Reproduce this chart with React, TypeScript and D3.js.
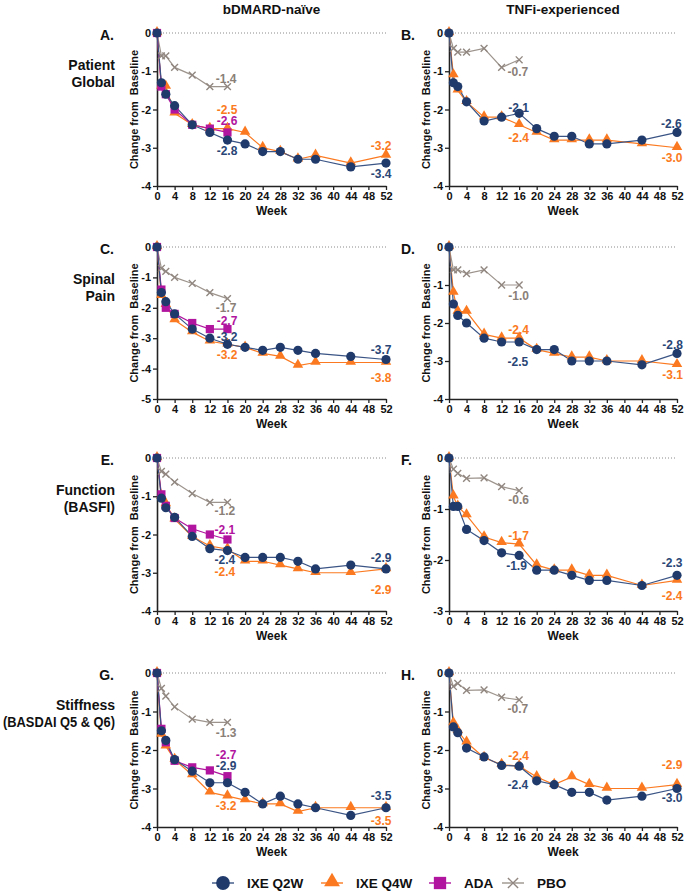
import React, { useEffect, useRef } from 'react';
import * as d3 from 'd3';

// ---------- DATA ----------
const WEEKS_IXE = [0, 1, 2, 4, 8, 12, 16, 20, 24, 28, 32, 36, 44, 52];
const WEEKS_SHORT = [0, 1, 2, 4, 8, 12, 16];
const X_TICKS = [0, 4, 8, 12, 16, 20, 24, 28, 32, 36, 40, 44, 48, 52];
const COLUMN_TITLES = ['bDMARD-naïve', 'TNFi-experienced'];
const ROW_LABELS = [['Patient', 'Global'], ['Spinal', 'Pain'], ['Function', '(BASFI)'], ['Stiffness', '(BASDAI Q5 & Q6)']];
const LEGEND_NAMES = ['IXE Q2W', 'IXE Q4W', 'ADA', 'PBO'];

// Panel A: bDMARD-naive, Patient Global
const A_Q2W = [0, -1.3, -1.6, -1.9, -2.4, -2.6, -2.8, -2.9, -3.1, -3.1, -3.3, -3.3, -3.5, -3.4];
const A_Q4W = [0, -1.4, -1.4, -2.1, -2.4, -2.5, -2.5, -2.6, -3.0, -3.1, -3.3, -3.2, -3.4, -3.2];
const A_ADA = [0, -1.4, -1.6, -2.0, -2.4, -2.5, -2.6];
const A_PBO = [0, -0.6, -0.6, -0.9, -1.1, -1.4, -1.4];
// Panel B: TNFi-experienced, Patient Global
const B_Q2W = [0, -1.3, -1.4, -1.8, -2.3, -2.2, -2.1, -2.5, -2.7, -2.7, -2.9, -2.9, -2.8, -2.6];
const B_Q4W = [0, -1.1, -1.5, -1.8, -2.2, -2.2, -2.4, -2.6, -2.8, -2.8, -2.8, -2.8, -2.9, -3.0];
const B_PBO = [0, -0.4, -0.5, -0.5, -0.4, -0.9, -0.7];
// Panel C: bDMARD-naive, Spinal Pain
const C_Q2W = [0, -1.5, -1.8, -2.2, -2.7, -3.0, -3.2, -3.3, -3.4, -3.3, -3.4, -3.5, -3.6, -3.7];
const C_Q4W = [0, -1.6, -1.9, -2.4, -2.8, -3.1, -3.2, -3.3, -3.5, -3.6, -3.9, -3.8, -3.8, -3.8];
const C_ADA = [0, -1.4, -2.0, -2.2, -2.5, -2.7, -2.7];
const C_PBO = [0, -0.7, -0.8, -1.0, -1.2, -1.5, -1.7];
// Panel D: TNFi-experienced, Spinal Pain
const D_Q2W = [0, -1.5, -1.8, -2.0, -2.4, -2.5, -2.5, -2.7, -2.7, -3.0, -3.0, -3.0, -3.1, -2.8];
const D_Q4W = [0, -1.2, -1.7, -1.7, -2.3, -2.4, -2.4, -2.7, -2.8, -2.9, -2.9, -3.0, -3.0, -3.1];
const D_PBO = [0, -0.6, -0.6, -0.7, -0.6, -1.0, -1.0];
// Panel E: bDMARD-naive, Function (BASFI)
const E_Q2W = [0, -1.05, -1.3, -1.55, -2.05, -2.37, -2.42, -2.6, -2.6, -2.6, -2.7, -2.9, -2.8, -2.9];
const E_Q4W = [0, -1.0, -1.2, -1.6, -2.05, -2.3, -2.38, -2.7, -2.7, -2.8, -2.9, -3.0, -3.0, -2.9];
const E_ADA = [0, -0.95, -1.25, -1.57, -1.85, -2.0, -2.13];
const E_PBO = [0, -0.35, -0.42, -0.63, -0.93, -1.16, -1.16];
// Panel F: TNFi-experienced, Function (BASFI)
const F_Q2W = [0, -0.95, -0.95, -1.4, -1.62, -1.86, -1.91, -2.2, -2.2, -2.3, -2.4, -2.4, -2.5, -2.3];
const F_Q4W = [0, -0.75, -0.95, -1.12, -1.55, -1.66, -1.69, -2.1, -2.2, -2.2, -2.3, -2.3, -2.5, -2.4];
const F_PBO = [0, -0.22, -0.3, -0.4, -0.39, -0.56, -0.64];
// Panel G: bDMARD-naive, Stiffness
const G_Q2W = [0, -1.5, -1.75, -2.25, -2.55, -2.85, -2.85, -3.1, -3.4, -3.2, -3.4, -3.5, -3.7, -3.5];
const G_Q4W = [0, -1.6, -1.9, -2.25, -2.65, -3.1, -3.2, -3.3, -3.4, -3.4, -3.6, -3.5, -3.5, -3.5];
const G_ADA = [0, -1.45, -1.8, -2.28, -2.45, -2.53, -2.68];
const G_PBO = [0, -0.4, -0.6, -0.88, -1.2, -1.28, -1.28];
// Panel H: TNFi-experienced, Stiffness
const H_Q2W = [0, -1.4, -1.55, -1.95, -2.18, -2.4, -2.42, -2.8, -2.9, -3.1, -3.1, -3.3, -3.2, -3.0];
const H_Q4W = [0, -1.3, -1.5, -1.8, -2.2, -2.38, -2.42, -2.7, -2.9, -2.7, -2.9, -3.0, -3.0, -2.9];
const H_PBO = [0, -0.35, -0.27, -0.45, -0.44, -0.63, -0.7];

// value labels: [text, series, week, value] (label centre in data units)
type Lab = [string, string, number, number];
const A_LABELS: Lab[] = [['-1.4', 'pbo', 15.7, -1.2], ['-2.5', 'q4w', 15.9, -2.0], ['-2.6', 'ada', 15.9, -2.29], ['-2.8', 'q2w', 15.9, -3.08], ['-3.2', 'q4w', 50.9, -2.95], ['-3.4', 'q2w', 50.9, -3.69]];
const B_LABELS: Lab[] = [['-0.7', 'pbo', 15.7, -1.01], ['-2.1', 'q2w', 15.9, -1.96], ['-2.4', 'q4w', 15.9, -2.75], ['-2.6', 'q2w', 50.7, -2.38], ['-3.0', 'q4w', 50.9, -3.27]];
const C_LABELS: Lab[] = [['-1.7', 'pbo', 15.7, -2.0], ['-2.7', 'ada', 15.9, -2.43], ['-3.2', 'q2w', 15.9, -2.95], ['-3.2', 'q4w', 15.9, -3.55], ['-3.7', 'q2w', 50.9, -3.39], ['-3.8', 'q4w', 50.9, -4.3]];
const D_LABELS: Lab[] = [['-1.0', 'pbo', 15.9, -1.28], ['-2.4', 'q4w', 15.9, -2.18], ['-2.5', 'q2w', 15.7, -3.02], ['-2.8', 'q2w', 51, -2.58], ['-3.1', 'q4w', 51, -3.37]];
const E_LABELS: Lab[] = [['-1.2', 'pbo', 15.4, -1.38], ['-2.1', 'ada', 15.4, -1.88], ['-2.4', 'q2w', 15.4, -2.67], ['-2.4', 'q4w', 15.4, -2.99], ['-2.9', 'q2w', 50.9, -2.62], ['-2.9', 'q4w', 50.9, -3.45]];
const F_LABELS: Lab[] = [['-0.6', 'pbo', 15.9, -0.82], ['-1.7', 'q4w', 15.9, -1.52], ['-1.9', 'q2w', 15.4, -2.11], ['-2.3', 'q2w', 50.9, -2.05], ['-2.4', 'q4w', 50.9, -2.7]];
const G_LABELS: Lab[] = [['-1.3', 'pbo', 15.7, -1.55], ['-2.7', 'ada', 15.7, -2.13], ['-2.9', 'q2w', 15.7, -2.41], ['-3.2', 'q4w', 15.7, -3.45], ['-3.5', 'q2w', 50.9, -3.2], ['-3.5', 'q4w', 50.9, -3.85]];
const H_LABELS: Lab[] = [['-0.7', 'pbo', 15.7, -0.94], ['-2.4', 'q4w', 15.9, -2.16], ['-2.4', 'q2w', 15.7, -2.92], ['-2.9', 'q4w', 50.9, -2.38], ['-3.0', 'q2w', 50.9, -3.24]];

// ---------- STYLE / LAYOUT ----------
const FONT = "'Liberation Sans', Arial, Helvetica, sans-serif";
const COLORS: Record<string, string> = { q2w: '#1f3a6b', q4w: '#fb7a21', ada: '#b1149e', pbo: '#918780' };
const LINE_COLORS: Record<string, string> = { q2w: '#3a5485', q4w: '#fb7a21', ada: '#b1149e', pbo: '#9d948d' };
const LABEL_COLORS: Record<string, string> = { q2w: '#2a4676', q4w: '#fb7a21', ada: '#b1149e', pbo: '#8a8078' };
const COL_X = [[157, 386], [449, 677]];
const ROW_Y = [[33, 186], [247, 399], [458, 611], [673, 827]];

interface Panel {
  letter: string; col: number; row: number; ymin: number;
  q2w: number[]; q4w: number[]; ada?: number[]; pbo: number[]; labels: Lab[];
}
const PANELS: Panel[] = [
  { letter: 'A.', col: 0, row: 0, ymin: -4, q2w: A_Q2W, q4w: A_Q4W, ada: A_ADA, pbo: A_PBO, labels: A_LABELS },
  { letter: 'B.', col: 1, row: 0, ymin: -4, q2w: B_Q2W, q4w: B_Q4W, pbo: B_PBO, labels: B_LABELS },
  { letter: 'C.', col: 0, row: 1, ymin: -5, q2w: C_Q2W, q4w: C_Q4W, ada: C_ADA, pbo: C_PBO, labels: C_LABELS },
  { letter: 'D.', col: 1, row: 1, ymin: -4, q2w: D_Q2W, q4w: D_Q4W, pbo: D_PBO, labels: D_LABELS },
  { letter: 'E.', col: 0, row: 2, ymin: -4, q2w: E_Q2W, q4w: E_Q4W, ada: E_ADA, pbo: E_PBO, labels: E_LABELS },
  { letter: 'F.', col: 1, row: 2, ymin: -3, q2w: F_Q2W, q4w: F_Q4W, pbo: F_PBO, labels: F_LABELS },
  { letter: 'G.', col: 0, row: 3, ymin: -4, q2w: G_Q2W, q4w: G_Q4W, ada: G_ADA, pbo: G_PBO, labels: G_LABELS },
  { letter: 'H.', col: 1, row: 3, ymin: -4, q2w: H_Q2W, q4w: H_Q4W, pbo: H_PBO, labels: H_LABELS },
];

function drawMarker(g: any, kind: string, cx: number, cy: number, scale = 1) {
  const c = COLORS[kind];
  if (kind === 'q2w') {
    g.append('circle').attr('cx', cx).attr('cy', cy).attr('r', 4.6 * scale).attr('fill', c);
  } else if (kind === 'q4w') {
    g.append('path').attr('d', d3.symbol(d3.symbolTriangle, 48 * scale * scale)()).attr('transform', `translate(${cx},${cy - 0.8 * scale})`).attr('fill', c);
  } else if (kind === 'ada') {
    const s = 8.2 * scale;
    g.append('rect').attr('x', cx - s / 2).attr('y', cy - s / 2).attr('width', s).attr('height', s).attr('fill', c);
  } else {
    const s = 3.4 * scale;
    g.append('path').attr('d', `M${cx - s},${cy - s}L${cx + s},${cy + s}M${cx - s},${cy + s}L${cx + s},${cy - s}`)
      .attr('stroke', c).attr('stroke-width', 1.4).attr('fill', 'none');
  }
}

export default function App() {
  const ref = useRef<SVGSVGElement>(null);
  useEffect(() => {
    const svg = d3.select(ref.current);
    svg.selectAll('*').remove();
    svg.append('rect').attr('width', 685).attr('height', 892).attr('fill', '#fff');

    // Column titles
    COLUMN_TITLES.forEach((t, i) => {
      svg.append('text').attr('x', (COL_X[i][0] + COL_X[i][1]) / 2).attr('y', 14)
        .attr('text-anchor', 'middle').attr('font-family', FONT).attr('font-weight', 'bold')
        .attr('font-size', 13.5).attr('fill', '#111').text(t);
    });

    // Row labels
    ROW_LABELS.forEach((lines, r) => {
      lines.forEach((ln, k) => {
        const t = svg.append('text').attr('x', 115).attr('y', ROW_Y[r][0] + 37 + k * 16.5)
          .attr('text-anchor', 'end').attr('font-family', FONT).attr('font-weight', 'bold')
          .attr('font-size', 14).attr('fill', '#111').text(ln);
        if (ln.length > 12) t.attr('textLength', 112).attr('lengthAdjust', 'spacingAndGlyphs');
      });
    });

    PANELS.forEach((p) => {
      const [x0, x1] = COL_X[p.col];
      const [y0, y1] = ROW_Y[p.row];
      const x = d3.scaleLinear().domain([0, 52]).range([x0, x1]);
      const y = d3.scaleLinear().domain([0, p.ymin]).range([y0, y1]);
      const g = svg.append('g');

      // Panel letter
      g.append('text').attr('x', p.col === 0 ? 114 : 401).attr('y', y0 + 7)
        .attr('text-anchor', p.col === 0 ? 'end' : 'start').attr('font-family', FONT)
        .attr('font-weight', 'bold').attr('font-size', 14).attr('fill', '#111').text(p.letter);

      // Reference dotted line
      g.append('line').attr('x1', x(0)).attr('x2', x(52)).attr('y1', y(0)).attr('y2', y(0))
        .attr('stroke', '#8a8a8a').attr('stroke-width', 1).attr('stroke-dasharray', '1,2');

      // Axes
      const yAxis = d3.axisLeft(y).tickValues(d3.range(0, p.ymin - 0.5, -1)).tickSize(4).tickSizeOuter(0)
        .tickPadding(2).tickFormat((d: any) => String(d));
      const xAxis = d3.axisBottom(x).tickValues(X_TICKS).tickSize(4).tickSizeOuter(0).tickPadding(2)
        .tickFormat((d: any) => String(d));
      const ya = g.append('g').attr('transform', `translate(${x0},0)`).call(yAxis as any);
      const xa = g.append('g').attr('transform', `translate(0,${y1})`).call(xAxis as any);
      [ya, xa].forEach((a) => {
        a.select('.domain').attr('stroke', '#222').attr('stroke-width', 1.6);
        a.selectAll('.tick line').attr('stroke', '#222').attr('stroke-width', 1.3);
        a.selectAll('.tick text').attr('font-family', FONT).attr('font-weight', 'bold')
          .attr('font-size', 11).attr('fill', '#111');
      });

      // Axis titles
      g.append('text').attr('transform', `translate(${x0 - 22},${(y0 + y1) / 2}) rotate(-90)`)
        .attr('text-anchor', 'middle').attr('dominant-baseline', 'middle').attr('font-family', FONT)
        .attr('font-weight', 'bold').attr('font-size', 11).attr('fill', '#111')
        .style('white-space', 'pre').text('Change from  Baseline');
      g.append('text').attr('x', (x0 + x1) / 2).attr('y', y1 + 29).attr('text-anchor', 'middle')
        .attr('font-family', FONT).attr('font-weight', 'bold').attr('font-size', 12)
        .attr('fill', '#111').text('Week');

      // Series
      const series: [string, number[], number[]][] = [['pbo', WEEKS_SHORT, p.pbo]];
      series.push(['q4w', WEEKS_IXE, p.q4w]);
      if (p.ada) series.push(['ada', WEEKS_SHORT, p.ada]);
      series.push(['q2w', WEEKS_IXE, p.q2w]);
      const line = d3.line<[number, number]>().x((d) => x(d[0])).y((d) => y(d[1]));
      series.forEach(([k, wks, vals]) => {
        const pts: [number, number][] = wks.map((w, i) => [w, vals[i]]);
        g.append('path').attr('d', line(pts)).attr('fill', 'none')
          .attr('stroke', LINE_COLORS[k]).attr('stroke-width', 1.2);
      });
      series.forEach(([k, wks, vals]) => {
        wks.forEach((w, i) => drawMarker(g, k, x(w), y(vals[i])));
      });

      // Value labels
      p.labels.forEach(([t, k, w, v]) => {
        g.append('text').attr('x', x(w)).attr('y', y(v)).attr('text-anchor', 'middle')
          .attr('dominant-baseline', 'central').attr('font-family', FONT).attr('font-weight', 'bold')
          .attr('font-size', 12).attr('fill', LABEL_COLORS[k]).text(t);
      });
    });

    // Legend
    const legendX = [223, 332, 440, 513];
    const keys = ['q2w', 'q4w', 'ada', 'pbo'];
    const ly = 883;
    keys.forEach((k, i) => {
      const cx = legendX[i];
      svg.append('line').attr('x1', cx - 11).attr('x2', cx + 11).attr('y1', ly).attr('y2', ly)
        .attr('stroke', LINE_COLORS[k]).attr('stroke-width', 1.4);
      drawMarker(svg, k, cx, ly, 1.5);
      svg.append('text').attr('x', cx + 24).attr('y', ly).attr('dominant-baseline', 'central')
        .attr('font-family', FONT).attr('font-weight', 'bold').attr('font-size', 13.5)
        .attr('fill', '#111').text(LEGEND_NAMES[i]);
    });
  }, []);
  return <svg ref={ref} width={685} height={892} style={{ position: 'absolute', left: 0, top: 0 }} />;
}
